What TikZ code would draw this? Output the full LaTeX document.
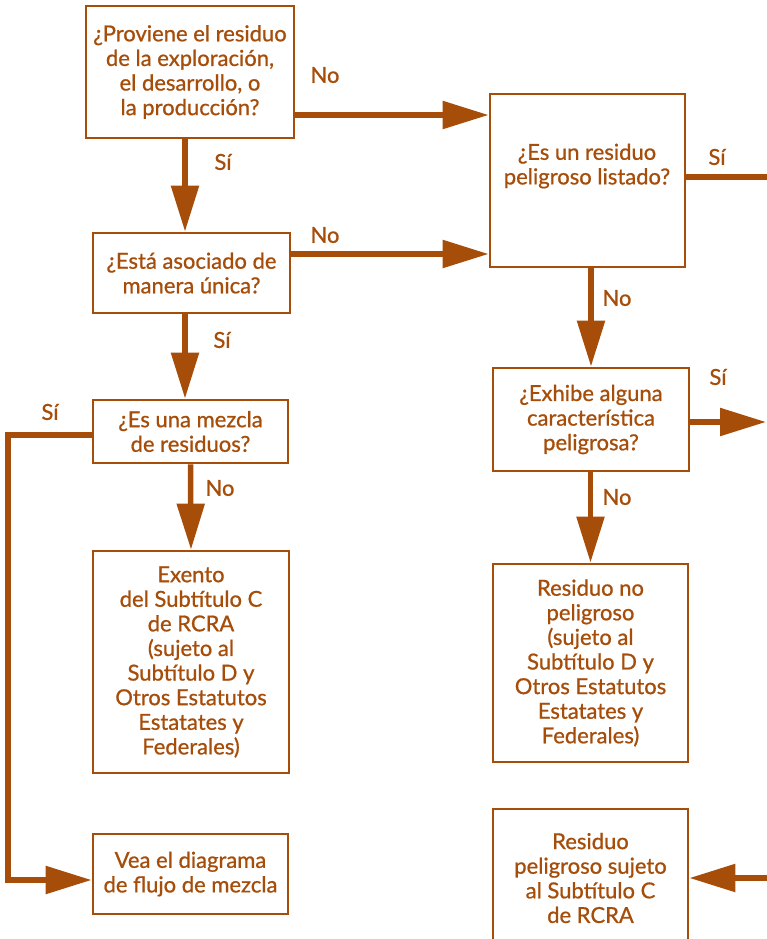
\documentclass[tikz,border=0pt]{standalone}
\usepackage{fontspec}
\newfontfamily\boxfont{Lato}[FakeBold=0.8]
\usetikzlibrary{arrows.meta}
\definecolor{brn}{RGB}{166,77,10}
\tikzset{
  box/.style={draw=brn, line width=2.8pt, fill=white, text=brn, align=center, inner sep=0pt,
    font=\boxfont\fontsize{22}{24.6}\selectfont},
  txt/.style={text=brn, align=center, inner sep=0pt, font=\boxfont\fontsize{22}{24.6}\selectfont},
  lbl/.style={text=brn, inner sep=0pt, font=\boxfont\fontsize{22}{22}\selectfont},
  conn/.style={draw=brn, line width=5.5pt},
  arr/.style={conn, -{Triangle[length=46pt,width=27pt]}},
}
\begin{document}
\begin{tikzpicture}[x=1pt,y=-1pt]
\useasboundingbox[fill=white] (0,0) rectangle (766,939);
% boxes
\node[box, minimum width=208pt, minimum height=132pt] (A) at (190,72)
  {¿Proviene el residuo\\de la exploración,\\el desarrollo, o\\la producción?};
\node[box, minimum width=195pt, minimum height=173pt] (B) at (587.5,180.5) {};
\node[txt] (Bt) at (587,166) {¿Es un residuo\\peligroso listado?};
\node[box, minimum width=197pt, minimum height=80pt] (C) at (191.5,273)
  {¿Está asociado de\\manera única?};
\node[box, minimum width=195pt, minimum height=63pt] (D) at (190.5,431.5)
  {¿Es una mezcla\\de residuos?};
\node[box, minimum width=196pt, minimum height=103pt] (E) at (591,419.5)
  {¿Exhibe alguna\\característica\\peligrosa?};
\node[box, minimum width=196pt, minimum height=222pt] (F) at (191,662)
  {Exento\\del Subtítulo C\\de RCRA\\(sujeto al\\Subtítulo D y\\Otros Estatutos\\Estatates y\\Federales)};
\node[box, minimum width=195pt, minimum height=198pt] (G) at (590.5,663)
  {Residuo no\\peligroso\\(sujeto al\\Subtítulo D y\\Otros Estatutos\\Estatates y\\Federales)};
\node[box, minimum width=195pt, minimum height=80pt] (H) at (190.5,874)
  {Vea el diagrama\\de flujo de mezcla};
\node[box, minimum width=195pt, minimum height=138pt] (I) at (590.5,878)
  {Residuo\\peligroso sujeto\\al Subtítulo C\\de RCRA};
% helper coordinates
\coordinate (y1) at (0,115);
\coordinate (y2) at (0,254);
\coordinate (x1) at (185,0);
\coordinate (corner1) at (8,435);
\coordinate (corner2) at (8,880);
\coordinate (rB) at (772,177);
\coordinate (rE) at (766,422);
\coordinate (rI) at (772,878);
% connectors
\draw[arr] (A.east|-y1) -- (B.west|-y1);
\draw[arr] (C.east|-y2) -- (B.west|-y2);
\draw[arr] (A.south-|x1) -- (C.north-|x1);
\draw[arr] (C.south-|x1) -- (D.north-|x1);
\draw[arr] (D.south) -- (F.north);
\draw[arr] (D.west|-corner1) -- (corner1) -- (corner2) -- (H.west|-corner2);
\draw[conn] (B.east|-rB) -- (rB);
\draw[arr] (B.south-|E.north) -- (E.north);
\draw[arr] (E.east|-rE) -- (rE);
\draw[arr] (E.south-|G.north) -- (G.north);
\draw[arr] (rI) -- (I.east|-rI);
% labels
\node[lbl] (l1) at (325,75) {No};
\node[lbl] (l2) at (223,162) {Sí};
\node[lbl] (l3) at (325,235) {No};
\node[lbl] (l4) at (222,340) {Sí};
\node[lbl] (l5) at (50,412) {Sí};
\node[lbl] (l6) at (220,488) {No};
\node[lbl] (l7) at (717,157) {Sí};
\node[lbl] (l8) at (617,298) {No};
\node[lbl] (l9) at (718,377) {Sí};
\node[lbl] (l10) at (617,497) {No};
\end{tikzpicture}
\end{document}
